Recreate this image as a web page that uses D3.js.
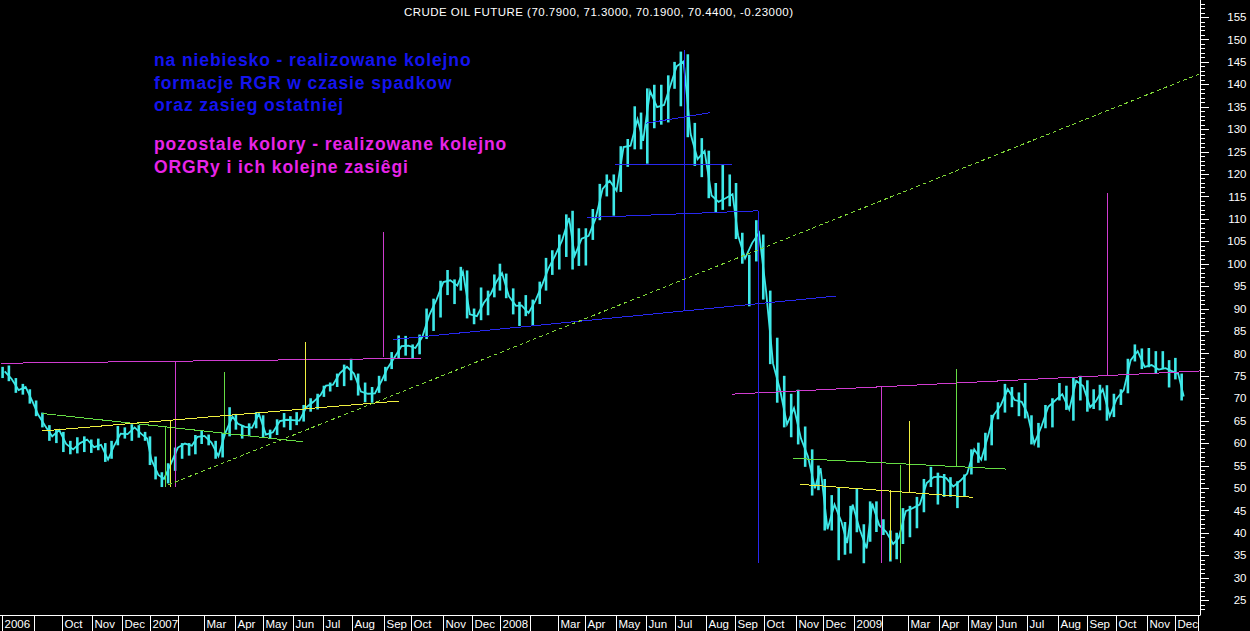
<!DOCTYPE html>
<html>
<head>
<meta charset="utf-8">
<script src="https://cdn.jsdelivr.net/npm/d3@7"></script>
<style>
  html, body { margin: 0; background: #000; overflow: hidden; }
  svg { display: block; }
</style>
</head>
<body>
<script>
// last bar: open, high, low, close, change
var lastBar = [70.79, 71.30, 70.19, 70.44, -0.23];

// NYMEX holidays inside the range (no bars on these days)
var holidays = ['2006-09-04','2006-11-23','2006-12-25','2007-01-01','2007-01-02','2007-01-15',
  '2007-02-19','2007-04-06','2007-05-28','2007-07-04','2007-09-03','2007-11-22','2007-12-25',
  '2008-01-01','2008-01-21','2008-02-18','2008-03-21','2008-05-26','2008-07-04','2008-09-01',
  '2008-11-27','2008-12-25','2009-01-01','2009-01-19','2009-02-16','2009-04-10','2009-05-25',
  '2009-07-03','2009-09-07','2009-11-26','2009-12-25'];
var lastDay = '2009-12-10';

// one label per month, Aug 2006 .. Dec 2009 ('' = no label drawn)
var monthLabels = ['2006','','Oct','Nov','Dec',
  '2007','','Mar','Apr','May','Jun','Jul','Aug','Sep','Oct','Nov','Dec',
  '2008','','Mar','Apr','May','Jun','Jul','Aug','Sep','Oct','Nov','Dec',
  '2009','','Mar','Apr','May','Jun','Jul','Aug','Sep','Oct','Nov','Dec'];

var priceTicks = d3.range(25, 156, 5);

// weekly bars (weeks starting Monday 2006-07-31)
var high2006 = [77.0,77.3,74.5,73.2,72.0,69.5,66.8,64.0,63.0,62.5,60.5,61.3,61.5,60.8,61.0,60.0,60.5,63.8,63.5,64.2,64.0,62.5];
var low2006  = [74.5,73.8,71.2,70.8,68.8,66.0,63.5,60.5,60.0,58.0,57.5,57.7,58.0,57.8,58.4,55.8,56.5,59.5,61.0,60.5,61.2,60.5];
var close2006 = [76.0,74.3,71.8,72.5,69.2,66.3,63.8,61.5,62.9,59.8,58.6,60.0,60.8,59.1,59.6,56.3,59.2,62.1,62.0,63.5,62.0,61.0];

var high2007 = [61.5,57.0,53.5,55.5,59.0,60.0,60.0,61.8,62.8,61.9,60.5,62.3,68.0,66.5,64.0,64.4,66.9,66.2,63.0,65.3,66.7,66.0,
  66.9,68.5,70.0,71.0,72.8,73.5,75.5,77.5,78.8,75.5,73.5,72.5,75.0,77.0,80.3,84.0,83.9,82.0,84.2,90.0,92.2,96.2,98.6,96.5,
  99.3,98.5,90.0,94.7,94.0,97.6,100.0];
var low2007  = [55.1,51.9,50.2,51.0,53.8,56.5,57.2,57.5,59.8,59.5,56.5,56.8,61.5,63.0,61.0,61.5,63.3,61.3,61.0,61.8,63.5,62.9,
  64.0,64.8,67.0,67.5,70.3,71.5,72.5,72.7,74.0,70.6,69.1,69.0,71.2,73.8,76.5,78.8,79.5,78.8,79.8,83.2,85.0,88.0,93.0,91.0,
  94.0,87.8,86.5,87.4,88.5,92.5,94.0];
var close2007 = [56.3,52.9,52.0,55.4,59.0,59.9,59.4,61.4,61.6,60.1,57.1,62.3,65.9,64.3,63.6,63.4,66.5,61.9,62.4,64.9,65.2,65.1,
  65.0,68.0,69.2,70.7,72.8,73.0,75.6,77.0,75.5,71.5,71.0,71.1,74.0,76.7,79.1,81.6,81.7,81.2,83.7,88.6,91.9,95.9,96.3,95.1,
  98.2,88.7,88.3,91.3,93.3,96.0,97.9];

var high2008 = [97.8,94.5,91.5,93.0,92.0,96.0,101.3,103.0,106.5,111.0,111.8,107.9,107.9,112.2,117.8,119.9,119.9,126.2,127.8,135.1,133.7,
  139.1,139.9,139.9,142.0,145.0,147.3,146.7,131.4,128.0,125.2,118.0,122.0,119.9,118.0,106.9,102.0,109.7,106.5,94.0,83.5,75.0,71.0,
  71.9,63.7,58.6,55.0,52.0,48.4,50.0,42.4,46.0];
var low2008  = [92.3,88.7,86.1,88.3,86.1,91.0,94.0,97.5,98.7,101.5,98.7,99.5,99.6,105.3,109.7,115.0,110.7,116.0,121.6,125.5,125.5,
  122.3,130.2,131.0,131.5,139.0,135.1,128.2,121.8,119.3,114.6,111.3,112.0,112.8,105.5,100.0,90.5,100.5,92.0,77.6,69.0,63.5,61.3,
  59.7,54.7,48.3,49.5,40.5,40.5,33.9,35.1,35.4];
var close2008 = [92.7,90.6,90.7,89.0,91.8,95.5,98.8,101.8,105.2,110.2,101.8,105.6,106.2,110.1,116.7,118.5,116.3,126.0,126.3,132.2,127.4,
  138.5,134.9,135.4,140.2,144.0,145.1,128.9,123.3,125.1,115.2,113.8,114.6,115.5,106.2,101.2,104.6,106.9,93.9,77.7,71.9,64.2,67.8,
  61.0,57.0,49.9,54.4,40.8,46.3,42.4,37.7,46.3];

var high2009 = [49.8,41.9,47.0,47.0,43.0,40.5,40.0,45.5,46.0,48.0,52.0,54.7,53.4,53.1,52.4,51.5,53.0,58.6,60.1,62.3,66.3,
  69.1,73.2,72.5,71.3,73.4,66.2,64.5,68.5,70.0,73.4,72.8,74.7,75.0,74.0,72.0,73.0,72.9,71.0,72.0,78.8,82.0,81.1,
  81.2,80.5,80.5,78.5,79.0,75.5];
var low2009  = [40.1,33.2,38.0,40.2,39.5,33.6,34.1,37.5,39.0,41.0,44.6,50.2,46.3,48.0,48.0,45.5,48.0,53.0,55.6,56.1,59.5,
  65.3,66.8,68.0,66.0,65.5,59.7,59.0,63.3,63.5,69.5,67.4,65.0,69.5,67.0,67.6,67.3,65.0,65.8,68.5,71.1,78.2,76.5,
  76.9,75.6,76.5,72.4,74.2,69.5];
var close2009 = [40.8,36.5,46.5,41.7,40.2,37.5,38.9,44.8,45.5,46.3,51.1,52.4,52.5,52.2,50.3,51.6,53.2,58.6,56.3,61.7,66.3,
  68.4,72.0,69.6,69.2,66.7,59.9,63.6,68.1,69.5,70.9,67.5,73.9,72.7,68.0,69.3,72.0,66.0,69.9,71.8,78.5,80.5,77.0,
  77.4,76.4,76.7,76.1,75.5,70.4];

// drawn lines: [colour, from date, from price, to date, to price]
var trendLines = [
  ['magenta','2006-08-01',77.8,'2007-10-11',78.9],
  ['magenta','2007-01-31',78.4,'2007-01-31',50.2],
  ['magenta','2007-09-04',107.1,'2007-09-04',79.2],
  ['magenta','2008-08-28',70.9,'2009-12-29',76.1],
  ['magenta','2009-02-02',72.6,'2009-02-02',33.3],
  ['magenta','2009-09-23',115.7,'2009-09-23',75.0],
  ['green','2006-09-13',66.6,'2007-06-12',60.3],
  ['green','2007-01-22',63.8,'2007-01-22',50.2],
  ['green','2007-03-22',75.9,'2007-03-22',62.2],
  ['green','2008-10-30',56.6,'2009-06-11',54.2],
  ['green','2009-02-23',55.2,'2009-02-23',33.2],
  ['green','2009-04-21',76.5,'2009-04-21',54.8],
  ['yellow','2006-09-13',62.7,'2007-09-19',69.4],
  ['yellow','2007-01-25',65.1,'2007-01-25',50.2],
  ['yellow','2007-06-14',82.6,'2007-06-14',67.6],
  ['yellow','2008-11-06',50.8,'2009-05-07',47.9],
  ['yellow','2009-02-11',49.5,'2009-02-11',33.9],
  ['yellow','2009-03-03',64.9,'2009-03-03',49.1],
  ['blue','2007-09-13',83.1,'2008-12-15',92.8],
  ['blue','2008-07-11',147.6,'2008-07-11',89.5],
  ['blue','2008-04-03',110.3,'2008-09-25',111.8],
  ['blue','2008-04-30',122.2,'2008-08-28',122.2],
  ['blue','2008-06-02',131.3,'2008-08-07',133.7],
  ['blue','2008-09-25',111.8,'2008-09-25',33.3],
  ['dashed','2007-01-24',50.7,'2009-12-29',142.5]
];

var notesBlue = ['na niebiesko - realizowane kolejno', 'formacje RGR w czasie spadkow', 'oraz zasieg ostatniej'];
var notesPink = ['pozostale kolory - realizowane kolejno', 'ORGRy i ich kolejne zasiêgi'];

var colors = { magenta: '#d03cd0', green: '#66dd44', yellow: '#f0f040', blue: '#2828ee', dashed: '#80d838' };

var w = 1250, h = 631;
var plotRight = 1200, axisY = 615.5;

var fmt = d3.timeFormat('%Y-%m-%d');
var parse = d3.timeParse('%Y-%m-%d');
var holidaySet = new Set(holidays);
var tradingDays = d3.timeDay.range(new Date(2006, 7, 1), new Date(2010, 0, 1))
  .filter(d => d.getDay() > 0 && d.getDay() < 6 && !holidaySet.has(fmt(d)));

var x = d3.scaleLinear()
  .domain([0, tradingDays.length - 1])
  .range([0.5, 0.5 + (tradingDays.length - 1) * 1.397]);
var y = d3.scaleLinear().domain([22, 158.8]).range([613.5, 0]);

function dayIdx(date) { return d3.bisectLeft(tradingDays, date); }
function xd(s) { return x(dayIdx(parse(s))); }

var svg = d3.select('body').append('svg')
  .attr('width', w)
  .attr('height', h)
  .style('background', '#000');

svg.append('defs').append('clipPath').attr('id', 'plot')
  .append('rect').attr('x', 0).attr('y', 0).attr('width', plotRight).attr('height', axisY);

// title
var loc = d3.formatLocale({ decimal: '.', thousands: ',', grouping: [3], currency: ['', ''], minus: '-' });
svg.append('text')
  .attr('x', 404).attr('y', 16)
  .attr('textLength', 389)
  .attr('lengthAdjust', 'spacing')
  .attr('fill', '#fff')
  .style('font', '11.5px "Liberation Sans", Arial, sans-serif')
  .text('CRUDE OIL FUTURE (' + lastBar.slice(0, 4).map(loc.format('.4f')).join(', ') + ', ' + loc.format('.5f')(lastBar[4]) + ')');

// notes
var notes = svg.append('g')
  .style('font', 'bold 17.5px "Liberation Sans", Arial, sans-serif')
  .style('letter-spacing', '0.9px');
notes.selectAll('text.blue').data(notesBlue).join('text')
  .attr('class', 'blue')
  .attr('x', 154).attr('y', (d, i) => 66 + i * 22.5)
  .attr('fill', '#1414ee')
  .text(d => d);
notes.selectAll('text.pink').data(notesPink).join('text')
  .attr('class', 'pink')
  .attr('x', 154).attr('y', (d, i) => 150 + i * 22.5)
  .attr('fill', '#e824e8')
  .text(d => d);

// weekly bars
var highs = high2006.concat(high2007, high2008, high2009);
var lows = low2006.concat(low2007, low2008, low2009);
var closes = close2006.concat(close2007, close2008, close2009);
var last = dayIdx(parse(lastDay));
var weekStarts = d3.timeMonday.range(new Date(2006, 6, 31), new Date(2009, 11, 8));
var weeks = weekStarts.map(function(ws, i) {
  var a = Math.max(0, dayIdx(ws));
  var b = Math.min(last, dayIdx(d3.timeDay.offset(ws, 7)) - 1);
  return { xm: x((a + b) / 2), xe: x(b), h: highs[i], l: lows[i], c: closes[i] };
});

var chart = svg.append('g').attr('clip-path', 'url(#plot)');
chart.append('path')
  .datum(weeks)
  .attr('fill', 'none')
  .attr('stroke', '#3ee8e8')
  .attr('stroke-width', 1.8)
  .attr('d', d3.line().x(d => d.xe).y(d => y(d.c)));
chart.selectAll('line.bar').data(weeks).join('line')
  .attr('class', 'bar')
  .attr('x1', d => d.xm).attr('x2', d => d.xm)
  .attr('y1', d => y(d.h)).attr('y2', d => y(d.l))
  .attr('stroke', '#3ee8e8')
  .attr('stroke-width', 2.6);

// pattern lines
chart.selectAll('line.trend').data(trendLines).join('line')
  .attr('class', 'trend')
  .attr('x1', d => Math.round(xd(d[1])) + 0.5)
  .attr('y1', d => y(d[2]))
  .attr('x2', d => Math.round(xd(d[3])) + 0.5)
  .attr('y2', d => y(d[4]))
  .attr('stroke', d => colors[d[0]])
  .attr('stroke-width', 1)
  .attr('stroke-dasharray', d => d[0] == 'dashed' ? '4,3' : null)
  .style('shape-rendering', 'crispEdges');

// price axis
var major = d3.axisRight(y).tickValues(priceTicks).tickSize(8).tickSizeOuter(0);
var minor = d3.axisRight(y).tickValues(d3.range(23, 159, 1)).tickSize(4).tickSizeOuter(0).tickFormat('');
svg.append('g').attr('transform', 'translate(1200.5,0)').call(minor)
  .call(g => g.select('.domain').remove())
  .selectAll('line').attr('stroke', '#fff');
var ax = svg.append('g').attr('transform', 'translate(1200.5,0)').call(major);
ax.select('.domain').attr('stroke', '#fff').attr('d', 'M0,0V' + axisY);
ax.selectAll('line').attr('stroke', '#fff');
ax.selectAll('text')
  .attr('x', 46)
  .attr('text-anchor', 'end')
  .attr('fill', '#fff')
  .style('font', '11.5px "Liberation Sans", Arial, sans-serif');
svg.selectAll('.tick line').style('shape-rendering', 'crispEdges');

// month axis
var months = d3.timeMonth.range(new Date(2006, 7, 1), new Date(2010, 0, 1));
var mAxis = svg.append('g').style('shape-rendering', 'crispEdges');
mAxis.append('line')
  .attr('x1', 0).attr('x2', plotRight)
  .attr('y1', axisY).attr('y2', axisY)
  .attr('stroke', '#fff');
var mt = mAxis.selectAll('g').data(months).join('g')
  .attr('transform', (d, i) => 'translate(' + (Math.round(x(dayIdx(d))) + 1.5) + ',0)');
mt.append('line')
  .attr('y1', axisY).attr('y2', h)
  .attr('stroke', '#fff');
mt.append('text')
  .attr('x', 2).attr('y', 628)
  .attr('fill', '#fff')
  .style('font', '11.5px "Liberation Sans", Arial, sans-serif')
  .text((d, i) => monthLabels[i]);
mAxis.append('line')
  .attr('x1', plotRight - 1.5).attr('x2', plotRight - 1.5)
  .attr('y1', axisY).attr('y2', h)
  .attr('stroke', '#fff');
</script>
</body>
</html>
